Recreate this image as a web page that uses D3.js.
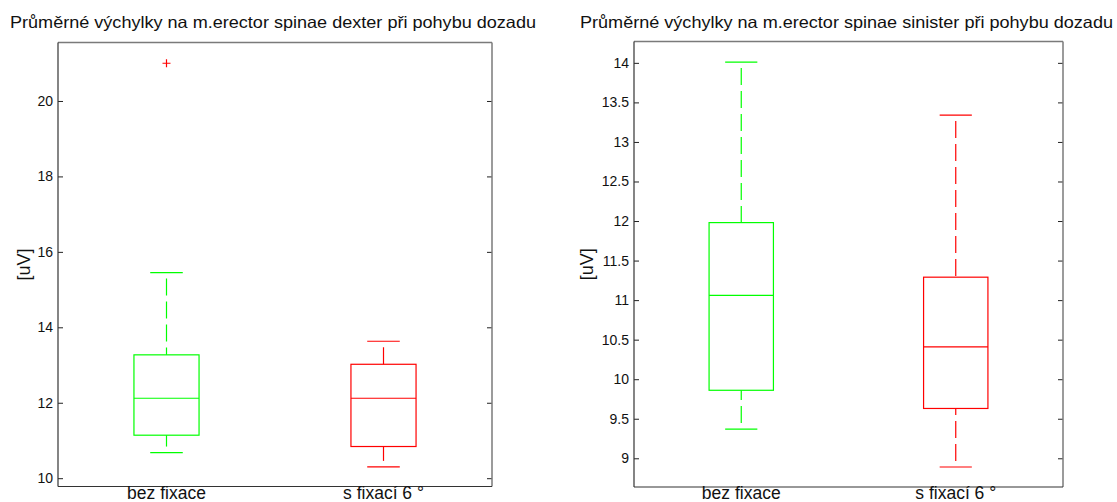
<!DOCTYPE html>
<html>
<head>
<meta charset="utf-8">
<script src="https://cdn.jsdelivr.net/npm/d3@7"></script>
<style>
  html, body { margin: 0; padding: 0; background: #fff; }
  svg { display: block; }
  text { font-family: "Liberation Sans", Arial, sans-serif; fill: #111; }
</style>
</head>
<body>
<svg id="chart" width="1117" height="502"></svg>
<script>
// Group labels shared by both panels
const groups = ["bez fixace", "s fixací 6 °"];
const groupColors = ["#00ff00", "#ff0000"];

// Panel 1: m. erector spinae dexter — box statistics per group
const dexterLowWhisker = [10.68, 10.30];
const dexterQ1 = [11.14, 10.84];
const dexterMedian = [12.12, 12.12];
const dexterQ3 = [13.27, 13.02];
const dexterHighWhisker = [15.45, 13.63];
const dexterOutliers = [[21.0], []];
const dexterTicks = [10, 12, 14, 16, 18, 20];

// Panel 2: m. erector spinae sinister — box statistics per group
const sinisterLowWhisker = [9.37, 8.89];
const sinisterQ1 = [9.86, 9.63];
const sinisterMedian = [11.06, 10.41];
const sinisterQ3 = [11.98, 11.29];
const sinisterHighWhisker = [14.01, 13.34];
const sinisterOutliers = [[], []];
const sinisterTicks = [9, 9.5, 10, 10.5, 11, 11.5, 12, 12.5, 13, 13.5, 14];

const titles = [
  "Průměrné výchylky na m.erector spinae dexter při pohybu dozadu",
  "Průměrné výchylky na m.erector spinae sinister při pohybu dozadu"
];

const svg = d3.select("#chart");

function panel(opts) {
  const { left, right, top, bottom, yDomain, ticks, title, titleX, titleLen,
          labelOffset, lo, q1, med, q3, hi, outliers } = opts;
  const g = svg.append("g");
  const x = d3.scaleLinear().domain([0.5, 2.5]).range([left, right]);
  const y = d3.scaleLinear().domain(yDomain).range([bottom, top]);
  const unit = x(2) - x(1);
  const boxW = 0.3 * unit, capW = 0.15 * unit;

  // Title
  g.append("text")
    .attr("x", titleX).attr("y", 28)
    .attr("text-anchor", "middle")
    .attr("textLength", titleLen)
    .attr("lengthAdjust", "spacingAndGlyphs")
    .style("font-size", "16.5px")
    .text(title);

  // Y axis (left, ticks pointing inwards)
  const yAxisL = d3.axisLeft(y).tickValues(ticks).tickSizeInner(-5).tickSizeOuter(0)
    .tickPadding(5).tickFormat(d3.format("~g"));
  const ga = g.append("g").attr("transform", `translate(${left},0)`).call(yAxisL);
  ga.select(".domain").remove();
  ga.selectAll(".tick line").attr("stroke", "#222");
  ga.selectAll(".tick text").style("font-size", "14px")
    .style("font-family", "'Liberation Sans', Arial, sans-serif").attr("fill", "#111");

  // Mirrored ticks on the right edge
  const yAxisR = d3.axisRight(y).tickValues(ticks).tickSizeInner(-5).tickSizeOuter(0)
    .tickFormat("");
  const gr = g.append("g").attr("transform", `translate(${right},0)`).call(yAxisR);
  gr.select(".domain").remove();
  gr.selectAll(".tick line").attr("stroke", "#222");

  // Frame
  g.append("line").attr("x1", left).attr("x2", right).attr("y1", top).attr("y2", top)
    .attr("stroke", "#7a7a7a").attr("stroke-width", 1.5);
  g.append("line").attr("x1", right).attr("x2", right).attr("y1", top).attr("y2", bottom)
    .attr("stroke", "#7a7a7a").attr("stroke-width", 1.5);
  g.append("line").attr("x1", left).attr("x2", left).attr("y1", top).attr("y2", bottom)
    .attr("stroke", "#333").attr("stroke-width", 1.2);
  g.append("line").attr("x1", left).attr("x2", right).attr("y1", bottom).attr("y2", bottom)
    .attr("stroke", "#333").attr("stroke-width", 1.2);

  // Y label
  g.append("text")
    .attr("transform", `translate(${left - labelOffset},${(top + bottom) / 2}) rotate(-90)`)
    .attr("text-anchor", "middle")
    .style("font-size", "18px")
    .text("[uV]");

  // Group labels under the axis
  groups.forEach((name, i) => {
    g.append("text")
      .attr("x", x(i + 1)).attr("y", 499)
      .attr("text-anchor", "middle")
      .style("font-size", "17.5px")
      .text(name);
  });

  // Boxes
  groups.forEach((name, i) => {
    const cx = x(i + 1), c = groupColors[i];
    const bg = g.append("g").attr("stroke", c).attr("fill", "none").attr("stroke-width", 1.2);
    // whiskers (dashed)
    bg.append("line").attr("x1", cx).attr("x2", cx).attr("y1", y(hi[i])).attr("y2", y(q3[i]))
      .attr("stroke-dasharray", "17,6").attr("stroke-dashoffset", 17);
    bg.append("line").attr("x1", cx).attr("x2", cx).attr("y1", y(lo[i])).attr("y2", y(q1[i]))
      .attr("stroke-dasharray", "17,6").attr("stroke-dashoffset", 17);
    // caps
    bg.append("line").attr("x1", cx - capW / 2).attr("x2", cx + capW / 2)
      .attr("y1", y(hi[i])).attr("y2", y(hi[i]));
    bg.append("line").attr("x1", cx - capW / 2).attr("x2", cx + capW / 2)
      .attr("y1", y(lo[i])).attr("y2", y(lo[i]));
    // box
    bg.append("rect").attr("x", cx - boxW / 2).attr("width", boxW)
      .attr("y", y(q3[i])).attr("height", y(q1[i]) - y(q3[i]));
    // median
    bg.append("line").attr("x1", cx - boxW / 2).attr("x2", cx + boxW / 2)
      .attr("y1", y(med[i])).attr("y2", y(med[i]));
    // outliers
    outliers[i].forEach(v => {
      const s = 4;
      g.append("path")
        .attr("d", `M${cx - s},${y(v)}H${cx + s}M${cx},${y(v) - s}V${y(v) + s}`)
        .attr("stroke", "#ff0000").attr("stroke-width", 1.2).attr("fill", "none");
    });
  });
}

panel({
  left: 58, right: 492, top: 42.5, bottom: 486.5,
  yDomain: [9.78, 21.55], ticks: dexterTicks, title: titles[0],
  titleX: 273, titleLen: 526, labelOffset: 28,
  lo: dexterLowWhisker, q1: dexterQ1, med: dexterMedian, q3: dexterQ3,
  hi: dexterHighWhisker, outliers: dexterOutliers
});

panel({
  left: 634, right: 1063, top: 41.5, bottom: 487,
  yDomain: [8.637, 14.27], ticks: sinisterTicks, title: titles[1],
  titleX: 846.5, titleLen: 533, labelOffset: 41,
  lo: sinisterLowWhisker, q1: sinisterQ1, med: sinisterMedian, q3: sinisterQ3,
  hi: sinisterHighWhisker, outliers: sinisterOutliers
});
</script>
</body>
</html>
